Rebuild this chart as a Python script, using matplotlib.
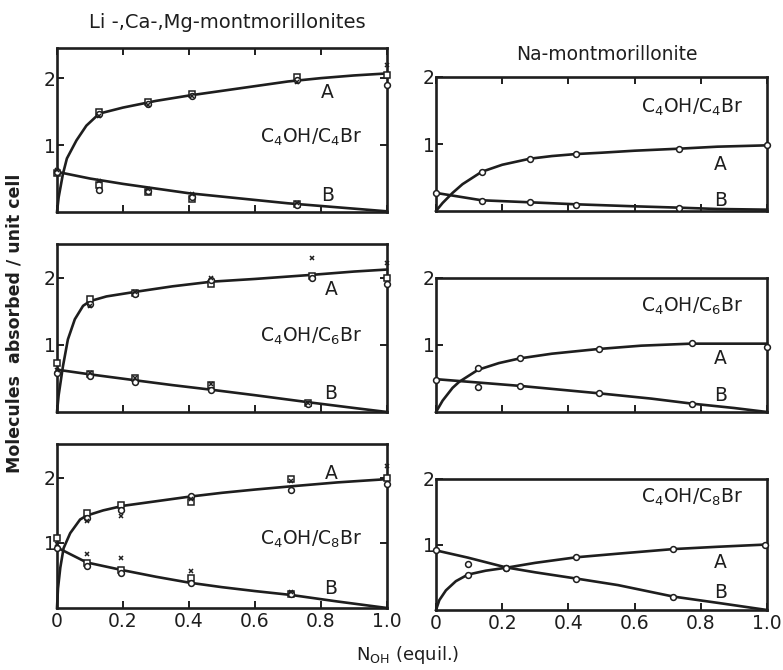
import matplotlib
matplotlib.use("Agg")
import matplotlib.pyplot as plt

plt.rcParams['font.family'] = ['DejaVu Sans']
plt.rcParams['mathtext.fontset'] = 'dejavusans'

INK = '#1e1e1e'

# ---------------- data ----------------
# Li-, Ca-, Mg-montmorillonites, C4OH/C4Br
lcm4_xA = [0.128, 0.276, 0.41, 0.727, 1.0]
lcm4_A_sq = [1.50, 1.65, 1.76, 2.01, 2.05]
lcm4_A_ci = [1.46, 1.62, 1.73, 1.97, 1.90]
lcm4_A_xm = [1.44, 1.60, 1.74, 1.94, 2.19]
lcm4_xB = [0.0, 0.128, 0.276, 0.41, 0.727]
lcm4_B_sq = [0.58, 0.40, 0.30, 0.19, 0.12]
lcm4_B_ci = [0.60, 0.33, 0.32, 0.22, 0.11]
lcm4_B_xm = [0.62, 0.46, 0.34, 0.27, 0.14]
lcm4_cA_x = [0, 0.005, 0.018, 0.03, 0.059, 0.089, 0.128, 0.2, 0.3, 0.4, 0.5, 0.6, 0.7, 0.8, 0.9, 1.0]
lcm4_cA_y = [0, 0.22, 0.57, 0.80, 1.07, 1.29, 1.47, 1.56, 1.66, 1.74, 1.81, 1.88, 1.95, 2.00, 2.04, 2.07]
lcm4_cB_x = [0, 0.1, 0.2, 0.3, 0.4, 0.5, 0.6, 0.7, 0.8, 0.9, 1.0]
lcm4_cB_y = [0.60, 0.50, 0.42, 0.35, 0.28, 0.23, 0.18, 0.13, 0.09, 0.05, 0.01]

# Li-, Ca-, Mg-montmorillonites, C4OH/C6Br
lcm6_xA = [0.1, 0.236, 0.466, 0.772, 1.0]
lcm6_A_sq = [1.68, 1.77, 1.90, 2.03, 1.99]
lcm6_A_ci = [1.60, 1.76, 1.97, 2.00, 1.91]
lcm6_A_xm = [1.58, 1.78, 1.99, 2.29, 2.21]
lcm6_xB = [0.0, 0.1, 0.236, 0.466, 0.76]
lcm6_B_sq = [0.73, 0.57, 0.50, 0.40, 0.14]
lcm6_B_ci = [0.58, 0.53, 0.44, 0.33, 0.12]
lcm6_B_xm = [0.62, 0.58, 0.50, 0.42, 0.13]
lcm6_cA_x = [0, 0.005, 0.018, 0.033, 0.054, 0.079, 0.1, 0.15, 0.24, 0.35, 0.47, 0.6, 0.77, 0.9, 1.0]
lcm6_cA_y = [0, 0.25, 0.68, 1.08, 1.38, 1.58, 1.65, 1.72, 1.79, 1.87, 1.94, 1.98, 2.04, 2.09, 2.12]
lcm6_cB_x = [0, 0.1, 0.24, 0.35, 0.47, 0.6, 0.77, 0.9, 1.0]
lcm6_cB_y = [0.63, 0.56, 0.47, 0.40, 0.33, 0.25, 0.14, 0.06, 0.0]

# Li-, Ca-, Mg-montmorillonites, C4OH/C8Br
lcm8_xA = [0.09, 0.195, 0.405, 0.71, 1.0]
lcm8_A_sq = [1.46, 1.59, 1.63, 1.98, 2.00]
lcm8_A_ci = [1.38, 1.51, 1.72, 1.82, 1.90]
lcm8_A_xm = [1.33, 1.41, 1.67, 1.95, 2.18]
lcm8_xB = [0.0, 0.09, 0.195, 0.405, 0.71]
lcm8_B_sq = [1.08, 0.69, 0.59, 0.46, 0.22]
lcm8_B_ci = [0.92, 0.64, 0.54, 0.38, 0.21]
lcm8_B_xm = [0.98, 0.83, 0.77, 0.57, 0.24]
lcm8_cA_x = [0, 0.003, 0.01, 0.02, 0.04, 0.07, 0.09, 0.14, 0.2, 0.3, 0.4, 0.5, 0.6, 0.71, 0.85, 1.0]
lcm8_cA_y = [0, 0.30, 0.62, 0.92, 1.15, 1.36, 1.42, 1.50, 1.57, 1.64, 1.71, 1.77, 1.82, 1.87, 1.93, 1.98]
lcm8_cB_x = [0, 0.09, 0.2, 0.3, 0.4, 0.5, 0.6, 0.71, 0.85, 1.0]
lcm8_cB_y = [0.93, 0.70, 0.58, 0.48, 0.39, 0.32, 0.26, 0.20, 0.10, 0.0]

# Na-montmorillonite, C4OH/C4Br
na4_xA = [0.138, 0.283, 0.423, 0.734, 1.0]
na4_A = [0.585, 0.78, 0.85, 0.92, 0.985]
na4_xB = [0.0, 0.138, 0.283, 0.423, 0.734]
na4_B = [0.27, 0.145, 0.135, 0.095, 0.05]
na4_cA_x = [0, 0.02, 0.05, 0.08, 0.138, 0.2, 0.283, 0.35, 0.423, 0.5, 0.6, 0.734, 0.85, 1.0]
na4_cA_y = [0, 0.12, 0.27, 0.40, 0.585, 0.69, 0.78, 0.82, 0.85, 0.87, 0.90, 0.93, 0.96, 0.98]
na4_cB_x = [0, 0.138, 0.283, 0.423, 0.6, 0.734, 0.85, 1.0]
na4_cB_y = [0.27, 0.16, 0.13, 0.10, 0.07, 0.05, 0.03, 0.02]

# Na-montmorillonite, C4OH/C6Br
na6_xA = [0.127, 0.253, 0.493, 0.773, 1.0]
na6_A = [0.65, 0.80, 0.94, 1.035, 0.975]
na6_xB = [0.0, 0.127, 0.253, 0.493, 0.773]
na6_B = [0.485, 0.375, 0.39, 0.285, 0.125]
na6_cA_x = [0, 0.02, 0.05, 0.07, 0.127, 0.19, 0.253, 0.35, 0.49, 0.62, 0.77, 0.9, 1.0]
na6_cA_y = [0, 0.17, 0.36, 0.45, 0.63, 0.73, 0.80, 0.87, 0.94, 0.99, 1.02, 1.02, 1.02]
na6_cB_x = [0, 0.127, 0.253, 0.49, 0.65, 0.773, 0.9, 1.0]
na6_cB_y = [0.49, 0.44, 0.39, 0.28, 0.20, 0.125, 0.06, 0.0]

# Na-montmorillonite, C4OH/C8Br
na8_xA = [0.096, 0.212, 0.424, 0.717, 0.995]
na8_A = [0.54, 0.64, 0.805, 0.933, 1.0]
na8_xB = [0.0, 0.096, 0.212, 0.424, 0.717]
na8_B = [0.91, 0.70, 0.64, 0.477, 0.195]
na8_cA_x = [0, 0.01, 0.03, 0.06, 0.096, 0.15, 0.212, 0.3, 0.424, 0.55, 0.717, 0.85, 1.0]
na8_cA_y = [0, 0.15, 0.30, 0.44, 0.54, 0.60, 0.645, 0.72, 0.805, 0.86, 0.93, 0.965, 1.0]
na8_cB_x = [0, 0.096, 0.212, 0.3, 0.424, 0.55, 0.717, 0.85, 1.0]
na8_cB_y = [0.91, 0.80, 0.65, 0.575, 0.48, 0.38, 0.205, 0.11, 0.0]

x_ticks = [0, 0.2, 0.4, 0.6, 0.8, 1.0]
x_ticklabels = ['0', '0.2', '0.4', '0.6', '0.8', '1.0']
y_ticks = [1, 2]
labels = [r'C$_4$OH/C$_4$Br', r'C$_4$OH/C$_6$Br', r'C$_4$OH/C$_8$Br']
title_left = 'Li -,Ca-,Mg-montmorillonites'
title_right = 'Na-montmorillonite'
ylabel = 'Molecules  absorbed / unit cell'
xlabel = r'N$_{\mathregular{OH}}$ (equil.)'

# ---------------- figure ----------------
W, H = 783, 670
fig = plt.figure(figsize=(W / 100, H / 100), dpi=100)

def box(x0, x1, ytop, ybot):
    return [x0 / W, 1 - ybot / H, (x1 - x0) / W, (ybot - ytop) / H]

axes_pos = {
    'L4': box(57, 387, 48, 212), 'R4': box(436, 767, 77, 211),
    'L6': box(57, 387, 244, 412), 'R6': box(436, 767, 278, 412),
    'L8': box(57, 387, 444, 608), 'R8': box(436, 767, 479, 610),
}
ylims = {'L4': 2.45, 'L6': 2.5, 'L8': 2.52, 'R4': 2.0, 'R6': 2.0, 'R8': 2.0}

FS = 13.5
lw = 1.9
ms = 4.2

def style(ax, key, bottom_labels, top_ticks, right_ticks):
    ax.set_xlim(0, 1)
    ax.set_ylim(0, ylims[key])
    ax.set_xticks(x_ticks)
    if bottom_labels:
        ax.set_xticklabels(x_ticklabels)
    else:
        ax.set_xticklabels([])
    ax.set_yticks(y_ticks)
    ax.set_yticklabels(['1', '2'])
    ax.tick_params(axis='both', direction='in', length=5, width=1.4, color=INK,
                   labelsize=FS, labelcolor=INK, pad=2)
    ax.tick_params(axis='x', top=top_ticks, pad=3)
    ax.tick_params(axis='y', right=right_ticks, pad=1)
    for sp in ax.spines.values():
        sp.set_linewidth(1.9)
        sp.set_color(INK)
    ax.set_facecolor('none')

def lcm_panel(key, xA, Asq, Aci, Axm, xB, Bsq, Bci, Bxm, cAx, cAy, cBx, cBy, lab, pos_lab, pos_A, pos_B, bottom):
    ax = fig.add_axes(axes_pos[key])
    ax.plot(cAx, cAy, color=INK, lw=lw, zorder=2, clip_on=False)
    ax.plot(cBx, cBy, color=INK, lw=lw, zorder=2, clip_on=False)
    for xs, ys in ((xA, Asq), (xB, Bsq)):
        ax.plot(xs, ys, ls='none', marker='s', ms=ms, mfc='white', mec=INK, mew=1.1, zorder=3, clip_on=False)
    for xs, ys in ((xA, Aci), (xB, Bci)):
        ax.plot(xs, ys, ls='none', marker='o', ms=ms, mfc='white', mec=INK, mew=1.1, zorder=3, clip_on=False)
    for xs, ys in ((xA, Axm), (xB, Bxm)):
        ax.plot(xs, ys, ls='none', marker='x', ms=3.5, mec=INK, mew=1.1, zorder=3, clip_on=False)
    ax.text(pos_lab[0], pos_lab[1], lab, fontsize=FS, color=INK, ha='center', va='center')
    ax.text(pos_A[0], pos_A[1], 'A', fontsize=FS, color=INK, ha='center', va='center')
    ax.text(pos_B[0], pos_B[1], 'B', fontsize=FS, color=INK, ha='center', va='center')
    style(ax, key, bottom, key == 'L4', True)
    return ax

def na_panel(key, xA, A, xB, B, cAx, cAy, cBx, cBy, lab, pos_lab, pos_A, pos_B, bottom):
    ax = fig.add_axes(axes_pos[key])
    ax.plot(cAx, cAy, color=INK, lw=lw, zorder=2, clip_on=False)
    ax.plot(cBx, cBy, color=INK, lw=lw, zorder=2, clip_on=False)
    ax.plot(xA, A, ls='none', marker='o', ms=ms, mfc='white', mec=INK, mew=1.1, zorder=3, clip_on=False)
    ax.plot(xB, B, ls='none', marker='o', ms=ms, mfc='white', mec=INK, mew=1.1, zorder=3, clip_on=False)
    ax.text(pos_lab[0], pos_lab[1], lab, fontsize=FS, color=INK, ha='center', va='center')
    ax.text(pos_A[0], pos_A[1], 'A', fontsize=FS, color=INK, ha='center', va='center')
    ax.text(pos_B[0], pos_B[1], 'B', fontsize=FS, color=INK, ha='center', va='center')
    style(ax, key, bottom, key == 'R4', False)
    return ax

lcm_panel('L4', lcm4_xA, lcm4_A_sq, lcm4_A_ci, lcm4_A_xm, lcm4_xB, lcm4_B_sq, lcm4_B_ci, lcm4_B_xm,
          lcm4_cA_x, lcm4_cA_y, lcm4_cB_x, lcm4_cB_y, labels[0], (0.77, 1.12), (0.82, 1.78), (0.82, 0.25), False)
lcm_panel('L6', lcm6_xA, lcm6_A_sq, lcm6_A_ci, lcm6_A_xm, lcm6_xB, lcm6_B_sq, lcm6_B_ci, lcm6_B_xm,
          lcm6_cA_x, lcm6_cA_y, lcm6_cB_x, lcm6_cB_y, labels[1], (0.77, 1.12), (0.83, 1.82), (0.83, 0.28), False)
lcm_panel('L8', lcm8_xA, lcm8_A_sq, lcm8_A_ci, lcm8_A_xm, lcm8_xB, lcm8_B_sq, lcm8_B_ci, lcm8_B_xm,
          lcm8_cA_x, lcm8_cA_y, lcm8_cB_x, lcm8_cB_y, labels[2], (0.77, 1.05), (0.83, 2.07), (0.83, 0.30), True)
na_panel('R4', na4_xA, na4_A, na4_xB, na4_B, na4_cA_x, na4_cA_y, na4_cB_x, na4_cB_y,
         labels[0], (0.775, 1.55), (0.86, 0.69), (0.86, 0.16), False)
na_panel('R6', na6_xA, na6_A, na6_xB, na6_B, na6_cA_x, na6_cA_y, na6_cB_x, na6_cB_y,
         labels[1], (0.775, 1.57), (0.86, 0.80), (0.86, 0.25), False)
na_panel('R8', na8_xA, na8_A, na8_xB, na8_B, na8_cA_x, na8_cA_y, na8_cB_x, na8_cB_y,
         labels[2], (0.775, 1.72), (0.86, 0.72), (0.86, 0.26), True)

fig.text(227 / W, 1 - 22 / H, title_left, fontsize=14, color=INK, ha='center', va='center')
fig.text(607 / W, 1 - 55 / H, title_right, fontsize=13.5, color=INK, ha='center', va='center')
fig.text(15 / W, 1 - 323 / H, ylabel, fontsize=12.5, color=INK, ha='center', va='center',
         rotation=90, fontweight='bold')
fig.text(408 / W, 1 - 655 / H, xlabel, fontsize=13, color=INK, ha='center', va='center')

fig.savefig('out.png', dpi=100, facecolor='white')
